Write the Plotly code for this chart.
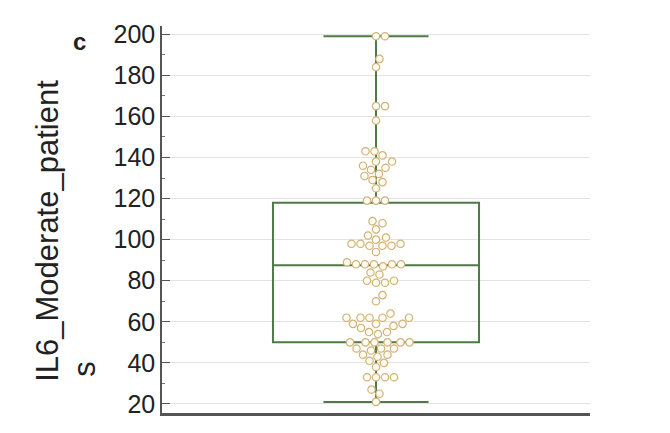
import numpy as np
import plotly.graph_objects as go

# IL6 values for moderate patients
il6_values = [
    199, 199, 188, 184, 165, 165, 158,
    143, 143, 141, 138, 138, 136, 135, 134, 132, 131, 129, 128, 125, 119, 119, 119,
    109, 108, 105, 102, 101, 100, 98, 98, 98, 97, 97, 97, 94,
    89, 88, 88, 88, 88, 88, 87, 84, 83,
    80, 80, 79, 79, 73, 70,
    64, 62, 62, 62, 62, 62, 59, 59, 59, 58, 57, 55, 55, 54,
    50, 50, 50, 50, 50, 50, 47, 47, 47, 46, 44, 44, 43, 41, 40, 38,
    33, 33, 33, 33, 27, 25, 21,
]
box_q1 = [50]
box_median = [87.5]
box_q3 = [118]
y_ticks = [20, 40, 60, 80, 100, 120, 140, 160, 180, 200]

Y_RANGE = [15.6, 204]
PLOT_H = 393
PLOT_W = 428
MARKER = 7.4
SPACING = 9.0  # centre-to-centre distance in the swarm


def swarm_offsets(values):
    """Greedy beeswarm: place each point as close to center as possible without overlap (pixel space)."""
    px_per_val = PLOT_H / (Y_RANGE[1] - Y_RANGE[0])
    placed = []
    offsets = [0.0] * len(values)
    order = np.argsort(values, kind="stable")
    for i in order:
        y = values[i] * px_per_val
        step = 0
        while True:
            found = None
            for cand in ([0.0] if step == 0 else [step * 0.5, -step * 0.5]):
                if all((cand - px) ** 2 + (y - py) ** 2 >= SPACING ** 2 for px, py in placed):
                    found = cand
                    break
            if found is not None:
                break
            step += 1
        placed.append((found, y))
        offsets[i] = found / (PLOT_W / 2)
    return offsets


x_offsets = swarm_offsets(il6_values)

# screenshot pixel (page has an 8px body margin) -> paper coords
ML, MT = 154, 12


def px_x(px):
    return (px - 8 - ML) / PLOT_W


def px_y(py):
    return (MT + PLOT_H - (py - 8)) / PLOT_H


fig = go.Figure()
fig.add_trace(go.Box(
    x=[0],
    q1=box_q1, median=box_median, q3=box_q3,
    lowerfence=[min(il6_values)], upperfence=[max(il6_values)],
    width=0.963, whiskerwidth=0.51,
    line=dict(color="#4d7a45", width=2),
    fillcolor="rgba(0,0,0,0)",
    boxpoints=False, hoverinfo="skip", showlegend=False,
))
fig.add_trace(go.Scatter(
    x=x_offsets, y=il6_values, mode="markers",
    marker=dict(size=MARKER, color="#fffdf3", line=dict(color="#d2b277", width=1.2)),
    showlegend=False,
))

fig.add_annotation(text="IL6_Moderate_patient", textangle=-90, x=px_x(48), y=px_y(228),
                   xref="paper", yref="paper", xanchor="center", yanchor="middle",
                   showarrow=False, font=dict(size=31, color="#222"))
fig.add_annotation(text="s", textangle=-90, x=px_x(85), y=px_y(368),
                   xref="paper", yref="paper", xanchor="center", yanchor="middle",
                   showarrow=False, font=dict(size=31, color="#222"))
fig.add_annotation(text="<b>c</b>", x=px_x(79), y=px_y(36),
                   xref="paper", yref="paper", xanchor="center", yanchor="middle",
                   showarrow=False, font=dict(size=24, color="#222"))

fig.update_layout(
    width=670, height=433,
    margin=dict(l=ML, r=670 - ML - PLOT_W, t=MT, b=433 - MT - PLOT_H),
    paper_bgcolor="white", plot_bgcolor="white",
    font=dict(family="Liberation Sans, Arial, sans-serif", color="#222"),
    xaxis=dict(range=[-1, 1], showticklabels=False, ticks="", showgrid=False, zeroline=False,
               showline=True, linecolor="#555", linewidth=2.5),
    yaxis=dict(range=Y_RANGE, tickvals=y_ticks, ticks="inside", ticklen=8, tickwidth=1.3,
               tickcolor="#555", tickfont=dict(size=25, color="#222"), ticklabelstandoff=0,
               showline=True, linecolor="#555", linewidth=1.5,
               showgrid=True, gridcolor="#e3e3e3", gridwidth=1, zeroline=False,
               minor=dict(dtick=10, ticks="inside", ticklen=3, tickcolor="#777", showgrid=False)),
)

fig.write_html("out.html")
